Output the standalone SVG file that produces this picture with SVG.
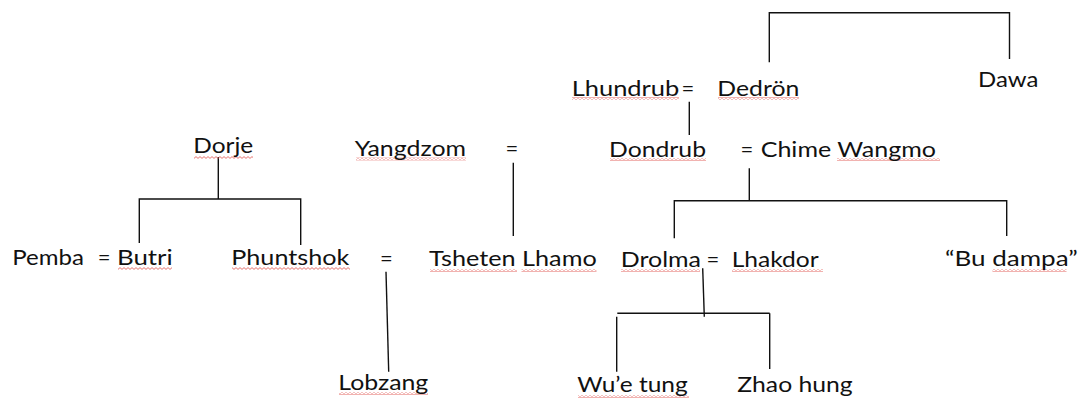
<svg xmlns="http://www.w3.org/2000/svg" width="1081" height="398" viewBox="0 0 1081 398">
  <style>
    text { font-family: Lato, "Open Sans", "Liberation Sans", sans-serif; font-size: 21px; fill: #111; }
    .eq { font-size: 22px; }
    .ln { stroke: #111; stroke-width: 1.4; fill: none; }
    .sq { fill: url(#squiggle); }
  </style>
  <defs>
    <pattern id="squiggle" patternUnits="userSpaceOnUse" width="4" height="3">
      <path d="M0,0.6 L2,2.4 L4,0.6" stroke="#e0504a" stroke-width="0.8" fill="none"/>
    </pattern>
  </defs>

  <g id="connectors">
    <polyline class="ln" points="769.3,62.3 769.3,12.7 1009.5,12.7 1009.5,59"/>
    <line class="ln" x1="689.3" y1="101.7" x2="689.3" y2="135"/>
    <line class="ln" x1="218.3" y1="157" x2="218.3" y2="199"/>
    <polyline class="ln" points="139.3,243 139.3,199 300.7,199 300.7,245"/>
    <line class="ln" x1="513.3" y1="162.7" x2="513.3" y2="236"/>
    <line class="ln" x1="749.3" y1="168.3" x2="749.3" y2="200.7"/>
    <polyline class="ln" points="674.3,238.3 674.3,200.7 1006.7,200.7 1006.7,236"/>
    <line class="ln" x1="386" y1="271.7" x2="388.7" y2="371.7"/>
    <line class="ln" x1="702.7" y1="268.3" x2="704.3" y2="316.7"/>
    <line class="ln" x1="617.3" y1="313.3" x2="769.7" y2="313.3"/>
    <line class="ln" x1="616.7" y1="316.7" x2="616.7" y2="371.7"/>
    <line class="ln" x1="769.7" y1="313.3" x2="769.7" y2="369"/>
  </g>

  <g id="marriages">
    <text class="eq" x="681.5" y="95.7">=</text>
    <text class="eq" x="505.5" y="156">=</text>
    <text class="eq" x="740.5" y="156.7">=</text>
    <text class="eq" x="97.8" y="265">=</text>
    <text class="eq" x="380" y="265.5">=</text>
    <text class="eq" x="706.5" y="267">=</text>
  </g>

  <g id="spellcheck">
    <rect class="sq" x="572" y="97" width="107" height="3"/>
    <rect class="sq" x="718" y="97" width="81" height="3"/>
    <rect class="sq" x="610" y="158" width="96" height="3"/>
    <rect class="sq" x="837" y="158" width="103" height="3"/>
    <rect class="sq" x="194" y="156" width="59" height="3"/>
    <rect class="sq" x="356" y="157.5" width="110" height="3"/>
    <rect class="sq" x="118" y="267" width="54" height="3"/>
    <rect class="sq" x="232" y="267" width="118" height="3"/>
    <rect class="sq" x="430" y="269" width="87" height="3"/>
    <rect class="sq" x="521.5" y="269" width="75" height="3"/>
    <rect class="sq" x="621" y="269" width="79" height="3"/>
    <rect class="sq" x="732" y="269" width="91" height="3"/>
    <rect class="sq" x="992.5" y="269" width="74" height="3"/>
    <rect class="sq" x="339" y="392" width="89" height="3"/>
    <rect class="sq" x="578" y="395" width="111" height="3"/>
  </g>

  <g id="n-lhundrub"><text x="571.7" y="95.7" textLength="107.6" lengthAdjust="spacingAndGlyphs">Lhundrub</text></g>
  <g id="n-dedron"><text x="717.3" y="95.7" textLength="82" lengthAdjust="spacingAndGlyphs">Dedrön</text></g>
  <g id="n-dawa"><text x="978" y="87.3" textLength="60.3" lengthAdjust="spacingAndGlyphs">Dawa</text></g>

  <g id="n-dorje"><text x="193.3" y="153.3" textLength="60" lengthAdjust="spacingAndGlyphs">Dorje</text></g>
  <g id="n-yangdzom"><text x="354.7" y="155.7" textLength="111.3" lengthAdjust="spacingAndGlyphs">Yangdzom</text></g>
  <g id="n-dondrub"><text x="609" y="156.7" textLength="97" lengthAdjust="spacingAndGlyphs">Dondrub</text></g>
  <g id="n-chime-wangmo"><text x="760.7" y="156.7" textLength="175.3" lengthAdjust="spacingAndGlyphs">Chime Wangmo</text></g>

  <g id="n-pemba"><text x="12.3" y="265" textLength="71.7" lengthAdjust="spacingAndGlyphs">Pemba</text></g>
  <g id="n-butri"><text x="117" y="265" textLength="55.7" lengthAdjust="spacingAndGlyphs">Butri</text></g>
  <g id="n-phuntshok"><text x="231.3" y="265" textLength="118" lengthAdjust="spacingAndGlyphs">Phuntshok</text></g>
  <g id="n-tsheten-lhamo"><text x="429" y="266" textLength="167.7" lengthAdjust="spacingAndGlyphs">Tsheten Lhamo</text></g>
  <g id="n-drolma"><text x="620.7" y="267" textLength="80.3" lengthAdjust="spacingAndGlyphs">Drolma</text></g>
  <g id="n-lhakdor"><text x="731.7" y="267" textLength="87" lengthAdjust="spacingAndGlyphs">Lhakdor</text></g>
  <g id="n-bu-dampa"><text x="945" y="266" textLength="132.7" lengthAdjust="spacingAndGlyphs">“Bu dampa”</text></g>

  <g id="n-lobzang"><text x="338.3" y="389.5" textLength="90" lengthAdjust="spacingAndGlyphs">Lobzang</text></g>
  <g id="n-wue-tung"><text x="577.3" y="391.5" textLength="110.4" lengthAdjust="spacingAndGlyphs">Wu’e tung</text></g>
  <g id="n-zhao-hung"><text x="737.3" y="391.5" textLength="115.4" lengthAdjust="spacingAndGlyphs">Zhao hung</text></g>
</svg>
